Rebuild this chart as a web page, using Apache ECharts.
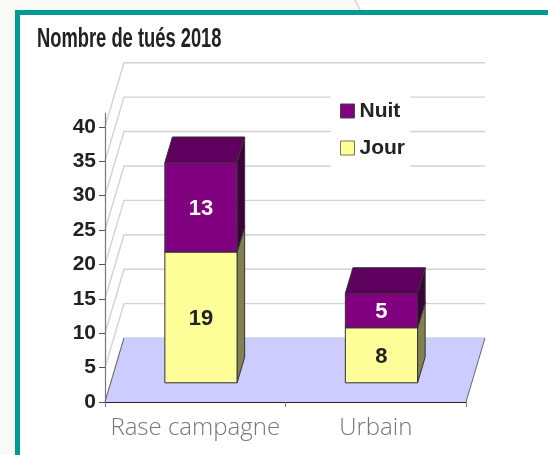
<!DOCTYPE html>
<html><head><meta charset="utf-8">
<style>html,body{margin:0;padding:0;background:#fff}#c{width:548px;height:455px}</style>
<script src="https://cdn.jsdelivr.net/npm/echarts@6/dist/echarts.min.js"></script>
</head><body><div id="c"></div>
<script>
const categories = ['Rase campagne', 'Urbain'];
const jour = [19, 8];
const nuit = [13, 5];
const yTicks = [0, 5, 10, 15, 20, 25, 30, 35, 40];
const title = 'Nombre de tués 2018';

const DX = 19, DY = 64;           // full floor depth
const FRONT = 0.3, BACK = 0.7;    // bar depth position within the floor
const BAR_W = 0.4;                // share of the category band

function poly(points, fill, stroke, lw) {
  return {type: 'polygon', shape: {points}, style: {fill, stroke: stroke || 'none', lineWidth: lw || 0}};
}
function wallItem(params, api) {
  const cs = params.coordSys, p = api.coord([0, api.value(0)]);
  const y = p[1], l = cs.x, r = cs.x + cs.width;
  return {type: 'polyline', shape: {points: [[l, y], [l + DX, y - DY], [r + DX, y - DY]]},
    style: {fill: 'none', stroke: '#d2d2d2', lineWidth: 1.4}, silent: true};
}
function floorItem(params, api) {
  const cs = params.coordSys, y = api.coord([0, 0])[1], l = cs.x, r = cs.x + cs.width;
  return {type: 'group', children: [
    poly([[l, y], [l + DX, y - DY], [r + DX, y - DY], [r, y]], '#ccccff', 'none', 0),
    {type: 'polyline', shape: {points: [[l, y], [l + DX, y - DY]]}, style: {fill: 'none', stroke: '#666', lineWidth: 1}},
    {type: 'polyline', shape: {points: [[r, y], [r + DX, y - DY]]}, style: {fill: 'none', stroke: '#666', lineWidth: 1}}
  ]};
}
function barRenderer(front, top, side, textColor) {
  return function (params, api) {
    const i = api.value(0), c = api.coord([i, api.value(1)]), d = api.coord([i, api.value(2)]);
    const band = api.size([1, 0])[0], w = band * BAR_W;
    const ox = DX * FRONT, oy = DY * FRONT, bx = DX * (BACK - FRONT), by = DY * (BACK - FRONT);
    const x0 = c[0] - w / 2 + ox, x1 = x0 + w, y0 = c[1] - oy, y1 = d[1] - oy;
    const edge = '#333';
    return {type: 'group', children: [
      poly([[x1, y0], [x1 + bx, y0 - by], [x1 + bx, y1 - by], [x1, y1]], side, edge, 1),
      poly([[x0, y1], [x0 + bx, y1 - by], [x1 + bx, y1 - by], [x1, y1]], top, edge, 1),
      poly([[x0, y0], [x1, y0], [x1, y1], [x0, y1]], front, edge, 1),
      {type: 'text', style: {text: String(api.value(2) - api.value(1)), x: (x0 + x1) / 2, y: (y0 + y1) / 2 + 1.5,
        align: 'center', verticalAlign: 'middle', fill: textColor,
        font: 'bold 22px "Liberation Sans", Arial, sans-serif'}}
    ]};
  };
}
const option = {
  animation: false,
  backgroundColor: '#ffffff',
  legend: {
    data: [
      {name: 'Nuit', itemStyle: {color: '#800080', borderColor: '#444', borderWidth: 1}},
      {name: 'Jour', itemStyle: {color: '#ffff99', borderColor: '#777750', borderWidth: 1}}
    ],
    orient: 'vertical', left: 331, top: 91, icon: 'rect', itemWidth: 14, itemHeight: 14, itemGap: 9,
    padding: [6, 5, 7, 9], backgroundColor: '#fff',
    textStyle: {fontFamily: '"Liberation Sans"', fontWeight: 'bold', fontSize: 21, color: '#222', padding: [4, 0, 0, 0], lineHeight: 24},
    selectedMode: false
  },
  grid: {left: 105, right: 82, top: 113, bottom: 53, containLabel: false},
  xAxis: {type: 'category', data: categories, boundaryGap: true,
    axisLine: {lineStyle: {color: '#222', width: 1.2}},
    axisTick: {show: true, length: 5, alignWithLabel: false, lineStyle: {color: '#777'}},
    axisLabel: {interval: 0, margin: 14, color: '#777', fontFamily: '"Open Sans"', fontWeight: 300, fontSize: 24},
    z: 5},
  yAxis: {type: 'value', min: 0, max: 42, interval: 5, splitLine: {show: false},
    axisLine: {show: true, lineStyle: {color: '#777', width: 1.2}},
    axisTick: {show: true, length: 6, customValues: yTicks, lineStyle: {color: '#555'}},
    axisLabel: {customValues: yTicks, margin: 9, color: '#222', fontFamily: '"Liberation Sans"', fontWeight: 'bold', fontSize: 21},
    z: 5},
  graphic: [
    {type: 'rect', silent: true, z: -1, shape: {x: 0, y: 0, width: 355, height: 10}, style: {fill: '#f8faf5'}},
    {type: 'rect', silent: true, z: -1, shape: {x: 0, y: 0, width: 15, height: 455}, style: {fill: '#f8faf5'}},
    {type: 'line', silent: true, z: -1, shape: {x1: 355, y1: 0, x2: 360, y2: 10}, style: {stroke: '#f6cfcf', lineWidth: 2}},
    {type: 'rect', silent: true, z: 10, shape: {x: 15, y: 10, width: 533, height: 5}, style: {fill: '#009a93'}},
    {type: 'rect', silent: true, z: 10, shape: {x: 15, y: 10, width: 5, height: 445}, style: {fill: '#009a93'}},
    {type: 'text', silent: true, z: 10, x: 37, y: 25, scaleX: 0.655,
      style: {text: title, fill: '#222', font: 'bold 28px "Liberation Sans", Arial, sans-serif'}}
  ],
  series: [
    {type: 'custom', name: 'wall', coordinateSystem: 'cartesian2d', data: yTicks.map(v => [v]), renderItem: wallItem, encode: {y: 0}, silent: true, clip: false, z: 1},
    {type: 'custom', name: 'floor', coordinateSystem: 'cartesian2d', data: [[0]], renderItem: floorItem, encode: {y: 0}, silent: true, clip: false, z: 2},
    {type: 'custom', name: 'Jour', coordinateSystem: 'cartesian2d', clip: false, z: 3,
      data: jour.map((v, i) => [i, 0, v]), encode: {x: 0, y: [1, 2]},
      itemStyle: {color: '#ffff99'}, renderItem: barRenderer('#ffff99', '#808050', '#808050', '#222')},
    {type: 'custom', name: 'Nuit', coordinateSystem: 'cartesian2d', clip: false, z: 4,
      data: nuit.map((v, i) => [i, jour[i], jour[i] + v]), encode: {x: 0, y: [1, 2]},
      itemStyle: {color: '#800080'}, renderItem: barRenderer('#800080', '#5e005e', '#3d003d', '#fff')}
  ]
};
echarts.init(document.getElementById('c'), null, {renderer: 'canvas'}).setOption(option);
</script></body></html>
